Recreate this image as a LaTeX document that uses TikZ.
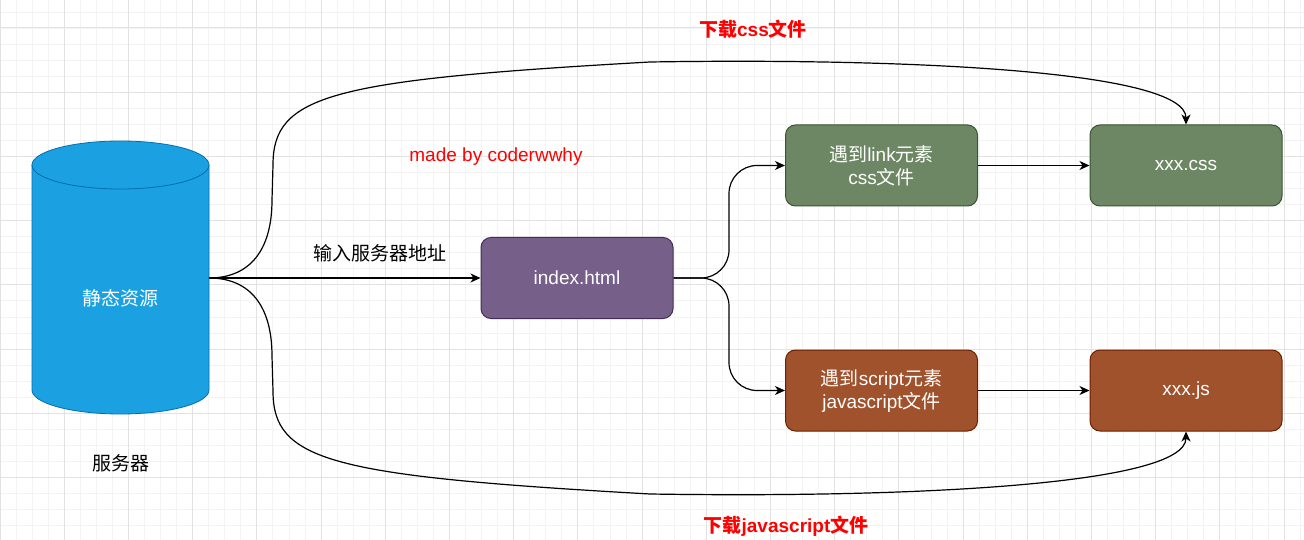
\documentclass[tikz,border=0pt]{standalone}
\usepackage{fontspec}
\setmainfont{Liberation Sans}
\newfontfamily\cjk{Noto Sans CJK SC}
\usetikzlibrary{arrows.meta}
\definecolor{gridminor}{RGB}{243,243,243}
\definecolor{gridmajor}{RGB}{226,226,226}
\definecolor{srvfill}{RGB}{27,161,226}
\definecolor{srvline}{RGB}{0,110,175}
\definecolor{idxfill}{RGB}{118,96,138}
\definecolor{idxline}{RGB}{67,45,87}
\definecolor{cssfill}{RGB}{109,135,100}
\definecolor{cssline}{RGB}{58,84,49}
\definecolor{jsfill}{RGB}{160,82,45}
\definecolor{jsline}{RGB}{109,31,0}
\newcommand{\drawbggrid}{
    \foreach \x in {0,...,81}{
      \draw[gridminor, line width=.8pt] (\x*16.05,0)--(\x*16.05,540);
    }
    \foreach \y in {0,...,33}{
      \draw[gridminor, line width=.8pt] (0,11.95+\y*16.05)--(1304,11.95+\y*16.05);
    }
    \foreach \x in {0,...,20}{
      \draw[gridmajor, line width=1pt] (\x*64.2,0)--(\x*64.2,540);
    }
    \foreach \y in {0,...,7}{
      \draw[gridmajor, line width=1pt] (0,28+\y*64.2)--(1304,28+\y*64.2);
    }
}
\tikzset{
  filebox/.style={draw=#1line, fill=#1fill, line width=1pt, rounded corners=10pt,
    text=white, align=center, minimum width=192pt, minimum height=81pt},
  flow/.style={-{Stealth[length=10pt,width=9pt,inset=3pt]}, line width=1.2pt},
  redlabel/.style={text=red}
}
\begin{document}
\begin{tikzpicture}[x=1pt, y=-1pt, font=\fontsize{19}{23}\selectfont]
\useasboundingbox (0,0) rectangle (1304,540);
\fill[white] (0,0) rectangle (1304,540);
\drawbggrid
\filldraw[fill=srvfill, draw=srvline, line width=.8pt] (32,165) -- (32,390)
  arc[start angle=180, end angle=360, x radius=88.5pt, y radius=24pt] -- (209,165) -- cycle;
\filldraw[fill=srvfill, draw=srvline, line width=.8pt] (120.5,165) ellipse[x radius=88.5pt, y radius=24pt];
\node[text=white] (srv) at (120.5,298) {\cjk 静态资源};
\node (srvname) at (120.5,463) {\cjk 服务器};
\coordinate (srvout) at (209,278);
\node[filebox=idx] (idx) at (577,278) {index.html};
\node[filebox=css] (link) at (881.5,165.5) {{\cjk 遇到}link{\cjk 元素}\\css{\cjk 文件}};
\node[filebox=css] (cssfile) at (1186,165.5) {xxx.css};
\node[filebox=js] (script) at (881.5,390.5) {{\cjk 遇到}script{\cjk 元素}\\javascript{\cjk 文件}};
\node[filebox=js] (jsfile) at (1186,390.5) {xxx.js};
\node[redlabel, font=\fontsize{19}{23}\selectfont\bfseries] (csslbl) at (753,29) {{\cjk 下载}css{\cjk 文件}};
\node[redlabel, font=\fontsize{19}{23}\selectfont\bfseries] (jslbl) at (786,526) {{\cjk 下载}javascript{\cjk 文件}};
\node[redlabel] (credit) at (496,157) {made by coderwwhy};
\coordinate (fork) at (729,278);
\draw[flow] (srvout) -- node[pos=.63, yshift=25pt] (inputlbl) {\cjk 输入服务器地址} (idx);
\draw[flow, rounded corners=28pt] (idx.east) -- (fork) |- (link.west);
\draw[flow, rounded corners=28pt] (idx.east) -- (fork) |- (script.west);
\draw[flow] (link) -- (cssfile);
\draw[flow] (script) -- (jsfile);
\draw[flow] (srvout) .. controls (250,278) and (272,250) .. (272,200) -- (273,165)
  .. controls (273,95) and (330,80) .. (650,62) .. controls (900,58) and (1186,70) .. (cssfile.north);
\draw[flow] (srvout) .. controls (250,278) and (272,306) .. (272,356) -- (273,391)
  .. controls (273,461) and (330,476) .. (650,494) .. controls (900,498) and (1186,486) .. (jsfile.south);
\end{tikzpicture}
\end{document}
